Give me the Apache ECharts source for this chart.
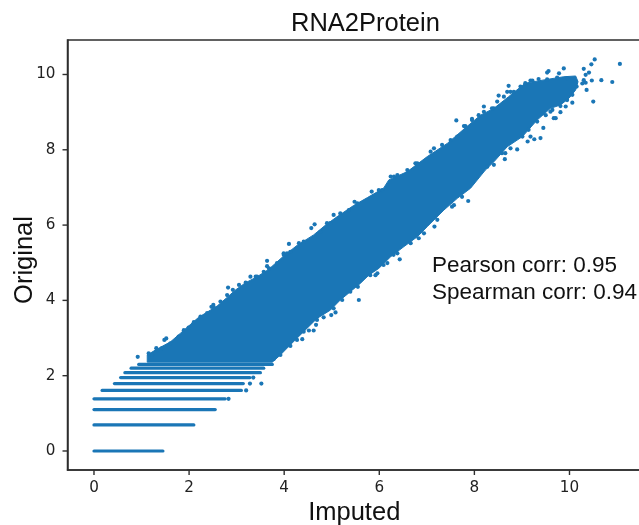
<!DOCTYPE html>
<html>
<head>
<meta charset="utf-8">
<script src="https://cdn.jsdelivr.net/npm/echarts@6/dist/echarts.min.js"></script>
<style>html,body{margin:0;padding:0;background:#fff}#c{width:639px;height:525px}</style>
</head>
<body>
<div id="c"></div>
<script>
var xTicks = [0, 2, 4, 6, 8, 10];
var yTicks = [0, 2, 4, 6, 8, 10];
var xMin = -0.557, xMax = 11.504, yMin = -0.505, yMax = 10.916;

// ln(n+1) rows at the low end: [level, first imputed, last imputed]
var levelRows = [
  [0, 0, 1.45], [0.693, 0, 2.1], [1.1, 0, 2.55], [1.386, 0, 2.76],
  [1.609, 0.17, 3.1], [1.79, 0.43, 3.14], [1.95, 0.56, 3.28],
  [2.08, 0.65, 3.5], [2.2, 0.78, 3.57], [2.3, 0.94, 3.75]
];

// Edge of the solid cloud, as [imputed, original]
var upperEdge = [
  [1.12,2.55],[1.29,2.68],[1.61,2.90],[1.82,3.13],[2.20,3.55],[2.59,3.85],[2.80,4.08],[2.98,4.28],
  [3.19,4.47],[3.42,4.62],[3.67,4.82],[3.99,5.18],[4.27,5.46],[4.62,5.74],[4.87,6.00],[5.11,6.22],
  [5.46,6.52],[5.75,6.73],[6.09,6.98],[6.20,7.20],[6.59,7.42],[7.01,7.82],[7.43,8.17],[7.78,8.55],
  [8.13,8.92],[8.41,9.10],[8.72,9.41],[9.07,9.77],[9.53,9.87],[9.88,9.94],[10.13,9.96],[10.18,9.81]
];
var lowerEdge = [
  [10.13,9.59],[9.99,9.37],[9.81,9.19],[9.60,9.10],[9.32,8.79],[9.01,8.35],[8.69,8.08],[8.41,7.68],
  [8.23,7.46],[7.92,6.98],[7.64,6.71],[7.36,6.40],[7.01,5.96],[6.80,5.69],[6.52,5.43],[6.24,5.16],
  [5.99,4.85],[5.78,4.67],[5.60,4.45],[5.39,4.23],[5.18,4.01],[4.97,3.74],[4.69,3.52],[4.41,3.17],
  [4.13,2.82],[3.92,2.55],[3.75,2.36],[1.12,2.36]
];

// Individual dots visible along and outside the edge
var edgeDots = [
  [5.84,6.89],[5.99,6.93],[6.24,7.29],[6.38,7.33],[6.76,7.64],[7.08,7.95],[7.32,8.13],[5.48,6.62],
  [5.36,6.40],[5.04,6.27],[4.90,6.05],[4.31,5.52],[3.99,5.25],[7.53,6.49],[6.83,5.65],[6.17,4.99],
  [5.92,4.67],[6.30,5.21],[6.66,5.52],[9.18,8.35],[9.12,8.22],[9.26,8.28],[9.67,8.84],[9.92,9.15],
  [9.60,9.01],[8.76,8.04],[8.65,7.91],[8.41,7.60],[8.69,9.54],[9.18,9.84],[9.35,9.88],[9.78,10.03],
  [8.41,9.10],[7.95,8.82],[7.78,8.63],[10.30,9.85],[10.34,9.78],[10.27,9.76],
  [1.15,2.59],[1.22,2.55],[1.33,2.68],[1.43,2.73],[1.61,2.86],[1.78,3.04],[1.89,3.21],[1.99,3.28],
  [2.10,3.42],[2.24,3.57],[2.38,3.66],[2.52,3.81],[2.66,3.97],[2.80,4.14],[2.92,4.28],[3.05,4.41],
  [3.19,4.47],[3.40,4.63],[3.57,4.76],[3.68,4.85],[3.99,5.21],[4.13,5.29],
  [3.78,2.44],[3.92,2.55],[4.13,2.79],[4.27,2.95],[4.41,3.17],[4.69,3.48],[4.83,3.55],[5.04,3.79],
  [5.22,4.01],[5.39,4.23],[5.55,4.36],
  [7.64,8.35],[7.81,8.63],[7.95,8.79],[8.09,8.92],[8.20,9.01],[8.37,9.10],[8.48,9.28],[8.62,9.41],
  [8.83,9.54],[8.97,9.68],[9.07,9.77],[9.22,9.84],[9.53,9.87],[9.74,9.92],[9.95,9.90],
  [8.27,7.55],[8.58,7.91],[9.01,8.35],[9.14,8.53],[9.32,8.75],[9.50,8.92],[9.64,9.06],[9.81,9.16],
  [9.95,9.32],[10.06,9.46],[10.15,9.68],
  [3.43,4.63],[3.85,4.99],[4.06,5.25],[4.41,5.56],[4.76,5.82],[4.97,6.05],[5.18,6.31],[5.54,6.58],
  [6.06,6.93],[6.31,7.29],[6.59,7.46],[6.80,7.64],[7.15,8.04],[7.50,8.26],
  [7.74,6.75],[7.57,6.53],[7.22,6.14],[6.94,5.78],[6.38,5.25],[6.09,4.94],[5.81,4.67]
];
var outlierDots = [
  [10.53,10.40],[11.06,10.28],[10.46,10.27],[10.30,10.15],[9.88,10.16],[9.56,10.09],[9.53,10.05],
  [10.41,10.05],[10.34,9.99],[10.67,9.85],[10.47,9.84],[10.90,9.80],[10.36,9.59],[10.50,9.28],
  [10.06,9.25],[8.72,9.70],[7.62,8.78],[8.51,9.44],[8.76,9.54],[8.20,9.15],[9.39,8.31],[9.45,8.58],
  [9.71,8.84],[9.81,9.00],[8.90,8.01],[8.64,7.75],[4.64,6.02],[4.57,5.92],[4.10,5.50],[3.64,5.05],
  [3.64,4.91],[7.87,6.64],[7.16,5.96],[6.43,5.09],[5.96,4.72],[3.29,4.63],[2.82,4.34],[2.47,3.83],
  [2.51,3.88],[1.52,2.99],[1.48,2.95],[1.31,2.73],[0.92,2.50],[5.57,4.01],[4.99,3.61],[5.08,3.68],
  [4.67,3.35],[4.62,3.20],[4.52,3.20],[4.38,2.97],
  [2.83,1.386],[3.28,1.79],[3.52,1.79],[3.35,1.95],[3.2,1.609]
];
var pearsonText = 'Pearson corr: 0.95';
var spearmanText = 'Spearman corr: 0.94';

var blue = '#1a76b6';
var ink = '#2e2e2e';
var outline = upperEdge.concat(lowerEdge);

var rowSeries = levelRows.map(function (r) {
  return {
    type: 'line', silent: true, symbol: 'none', animation: false,
    data: [[r[1], r[0]], [r[2], r[0]]],
    lineStyle: { color: blue, width: 3.2, cap: 'round' }
  };
});

function tickSeries(points, dx, dy) {
  return {
    type: 'custom', silent: true, animation: false, clip: false,
    coordinateSystem: 'cartesian2d',
    data: points, encode: { x: 0, y: 1 },
    renderItem: function (params, api) {
      var p = api.coord([api.value(0), api.value(1)]);
      return {
        type: 'line',
        shape: { x1: p[0], y1: p[1], x2: p[0] + dx, y2: p[1] + dy },
        style: { stroke: ink, lineWidth: 1.4 }
      };
    }
  };
}

var chart = echarts.init(document.getElementById('c'), null, { renderer: 'canvas' });
chart.setOption({
  animation: false,
  backgroundColor: '#fff',
  title: {
    text: 'RNA2Protein', left: 286, top: 6,
    textStyle: { fontFamily: 'Liberation Sans', fontSize: 25.5, fontWeight: 'normal', color: '#111' }
  },
  grid: {
    show: true, left: 67.5, top: 40, width: 573.5, height: 430,
    outerBoundsMode: 'none', containLabel: false,
    borderColor: ink, borderWidth: 1.5, backgroundColor: 'transparent'
  },
  xAxis: {
    type: 'value', min: xMin, max: xMax, splitLine: { show: false },
    axisLine: { show: true, onZero: false, lineStyle: { color: ink, width: 1.5 } },
    axisTick: { show: false },
    axisLabel: {
      customValues: xTicks, margin: 11, showMinLabel: true, showMaxLabel: true,
      fontFamily: 'DejaVu Sans', fontSize: 15.2, color: '#222'
    },
    name: 'Imputed', nameLocation: 'middle', nameGap: 30, nameMoveOverlap: false,
    nameTextStyle: { fontFamily: 'Liberation Sans', fontSize: 25.5, color: '#111' }
  },
  yAxis: {
    type: 'value', min: yMin, max: yMax, splitLine: { show: false },
    axisLine: { show: true, onZero: false, lineStyle: { color: ink, width: 1.5 } },
    axisTick: { show: false },
    axisLabel: {
      customValues: yTicks, margin: 12,
      fontFamily: 'DejaVu Sans', fontSize: 15.2, color: '#222'
    },
    name: 'Original', nameLocation: 'middle', nameGap: 30, nameRotate: 90, nameMoveOverlap: false,
    nameTextStyle: { fontFamily: 'Liberation Sans', fontSize: 25.5, color: '#111', padding: [0, 10, 0, 0] }
  },
  graphic: [
    { type: 'text', left: 432, top: 254, style: { text: pearsonText, fill: '#111', font: '22.5px "Liberation Sans"' } },
    { type: 'text', left: 432, top: 281, style: { text: spearmanText, fill: '#111', font: '22.5px "Liberation Sans"' } }
  ],
  series: [
    {
      type: 'custom', silent: true, animation: false, clip: false,
      coordinateSystem: 'cartesian2d',
      data: outline,
      encode: { x: 0, y: 1 },
      renderItem: function (params, api) {
        if (params.dataIndex !== 0) return null;
        return {
          type: 'polygon',
          shape: { points: outline.map(function (p) { return api.coord(p); }) },
          style: { fill: blue, stroke: blue, lineWidth: 1 }
        };
      }
    },
    tickSeries(xTicks.map(function (v) { return [v, yMin]; }), 0, 5),
    tickSeries(yTicks.map(function (v) { return [xMin, v]; }), -5, 0)
  ].concat(rowSeries).concat([
    { type: 'scatter', silent: true, symbolSize: 4.2, data: edgeDots, itemStyle: { color: blue, opacity: 1 } },
    { type: 'scatter', silent: true, symbolSize: 4.2, data: outlierDots, itemStyle: { color: blue, opacity: 1 } }
  ])
});
</script>
</body>
</html>
